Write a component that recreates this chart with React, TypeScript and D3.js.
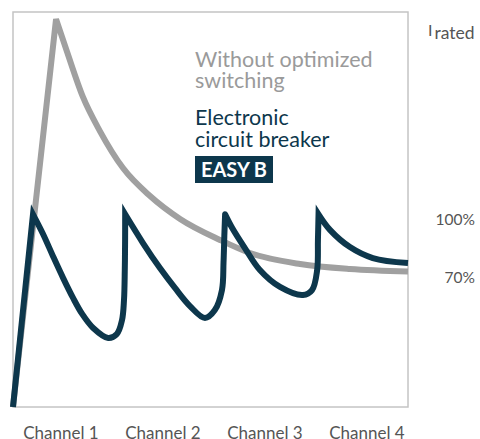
import React from "react";
import * as d3 from "d3";

// time (% of window) and current (% of I rated)
const greyTime = [0, 10.9, 13.7, 17.7, 22.0, 27.85, 34.7, 42.3, 52.4, 60.0, 72.7, 85.3, 100];
const greyCurrent = [0, 201.3, 184.2, 160.9, 143.2, 124.0, 109.5, 97.6, 86.7, 79.9, 74.2, 71.6, 70.3];

// electronic breaker: first rise, then one segment from each peak to the next
const ebRiseTime = [0, 5.06];
const ebRiseCurrent = [0, 100];
const ebTime = [
  [5.06, 7.6, 10.1, 12.7, 15.2, 17.5, 20.3, 24.1, 26.3, 27.6, 28.1, 28.3, 28.38, 28.4],
  [28.4, 32.9, 37.2, 41.0, 44.8, 48.6, 51.1, 52.9, 53.3, 53.5, 53.7],
  [53.7, 55.5, 58.7, 62.5, 67.6, 73.4, 75.7, 77.0, 77.2, 77.35],
  [77.35, 80.3, 85.3, 91.1, 100],
];
const ebCurrent = [
  [100, 89.8, 78.4, 66.9, 56.6, 48.3, 41.0, 35.8, 37.9, 45.1, 55.5, 71.1, 86.7, 100],
  [100, 85.1, 72.1, 61.8, 52.4, 46.2, 50.3, 60.7, 75.2, 88.7, 100],
  [100, 92.9, 82.5, 71.1, 62.3, 58.1, 60.7, 71.1, 86.7, 100],
  [100, 91.8, 83.0, 77.3, 74.7],
];

const yTicks = [100, 70];
const yTickLabels = ["100%", "70%"];
const channels = ["Channel 1", "Channel 2", "Channel 3", "Channel 4"];

const GREY = "#a0a0a0";
const DARK = "#0d374c";
const FONT = "Lato, 'Open Sans', sans-serif";

type Pt = [number, number];

const App: React.FC = () => {
  const x = d3.scaleLinear().domain([0, 100]).range([13, 408]);
  const y = d3.scaleLinear().domain([0, 205]).range([407, 12]);
  const cx = d3.scalePoint<string>().domain(channels).range([61, 367]);

  const lin = d3
    .line<Pt>()
    .x((d) => x(d[0]))
    .y((d) => y(d[1]));
  const mono = d3
    .line<Pt>()
    .x((d) => x(d[0]))
    .y((d) => y(d[1]))
    .curve(d3.curveMonotoneX);
  const smooth = d3
    .line<Pt>()
    .x((d) => x(d[0]))
    .y((d) => y(d[1]))
    .curve(d3.curveCatmullRom.alpha(0.5));

  const zip = (a: number[], b: number[]): Pt[] => a.map((v, i) => [v, b[i]]);

  // join segments into one path so that the peaks stay sharp
  const join = (parts: string[]) =>
    parts.map((p, i) => (i === 0 ? p : p.replace(/^M/, "L"))).join("");

  const greyPath = join([
    lin(zip(greyTime.slice(0, 2), greyCurrent.slice(0, 2))) || "",
    mono(zip(greyTime.slice(1), greyCurrent.slice(1))) || "",
  ]);

  const darkPath = join([
    lin(zip(ebRiseTime, ebRiseCurrent)) || "",
    ...ebTime.map((t, i) => smooth(zip(t, ebCurrent[i])) || ""),
  ]);

  return (
    <svg
      width={480}
      height={439}
      style={{ position: "absolute", left: 0, top: 0, background: "#fff" }}
    >
      <rect x={13} y={12} width={395} height={395} fill="none" stroke="#c4c4c4" strokeWidth={1.5} />

      <path d={greyPath} fill="none" stroke={GREY} strokeWidth={6} strokeLinejoin="miter" />
      <path d={darkPath} fill="none" stroke={DARK} strokeWidth={6} strokeLinejoin="miter" />

      <g fontFamily={FONT} fontSize={21.5}>
        <text x={195} y={67} fill="#9a9a9a">Without optimized</text>
        <text x={195} y={88} fill="#9a9a9a">switching</text>
        <text x={195} y={125} fill={DARK}>Electronic</text>
        <text x={195} y={147} fill={DARK}>circuit breaker</text>
      </g>

      <rect x={195} y={156} width={78} height={27} fill={DARK} />
      <text
        x={234}
        y={177}
        textAnchor="middle"
        fill="#fff"
        fontFamily={FONT}
        fontWeight="bold"
        fontSize={21}
        textLength={66}
        lengthAdjust="spacingAndGlyphs"
      >
        EASY B
      </text>

      <g fontFamily={FONT} fill="#555">
        <text x={428} y={36} fontSize={16}>
          I
          <tspan dx={2} dy={3} fontSize={17.5}>rated</tspan>
        </text>
        {yTicks.map((v, i) => (
          <text key={v} x={475} y={y(v) + 11} textAnchor="end" fontSize={15.5}>
            {yTickLabels[i]}
          </text>
        ))}
        {channels.map((c) => (
          <text key={c} x={cx(c)} y={439} textAnchor="middle" fontSize={17}>
            {c}
          </text>
        ))}
      </g>
    </svg>
  );
};

export default App;
